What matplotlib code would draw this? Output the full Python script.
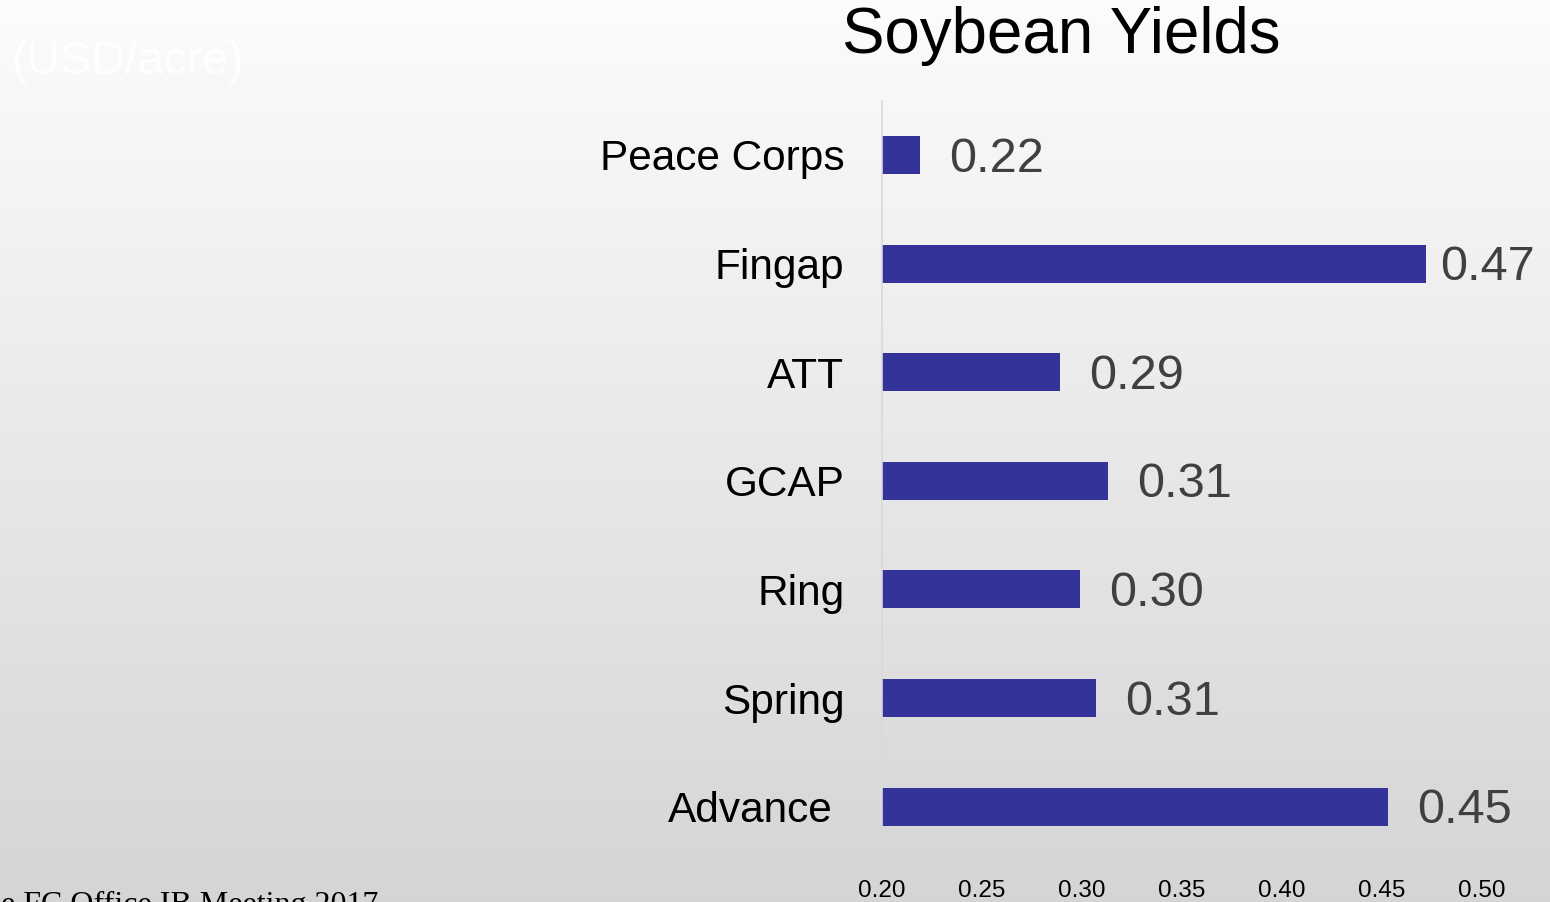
import matplotlib
matplotlib.use("Agg")
import matplotlib.pyplot as plt
import matplotlib.transforms as mtransforms
import numpy as np

plt.rcParams['font.family'] = ['Liberation Sans', 'DejaVu Sans']

categories = ["Peace Corps", "Fingap", "ATT", "GCAP", "Ring", "Spring", "Advance"]
values = [0.219, 0.472, 0.289, 0.313, 0.299, 0.307, 0.453]
xticks = [0.20, 0.25, 0.30, 0.35, 0.40, 0.45, 0.50]
title = "Soybean Yields"
unit_text = "(USD/acre)"
footer_text = "e FC Office IB Meeting 2017"

fig = plt.figure(figsize=(15.5, 9.02), dpi=100)

# gradient background
bg = fig.add_axes([0, 0, 1, 1], zorder=-10)
grad = np.linspace(0, 1, 256).reshape(-1, 1)
top_c = np.array([0.988, 0.988, 0.988])
bot_c = np.array([0.835, 0.835, 0.835])
img = top_c[None, None, :] * (1 - grad[:, :, None]) + bot_c[None, None, :] * grad[:, :, None]
bg.imshow(img, aspect='auto', extent=[0, 1, 0, 1], origin='upper')
bg.set_axis_off()

ax = fig.add_axes([0.569, 0.0455, 0.387, 0.843])
ax.patch.set_alpha(0)
y = np.arange(len(categories))
ax.barh(y, [v - 0.2 for v in values], left=0.2, height=0.35, color='#333399')
ax.set_xlim(0.2, 0.5)
ax.set_ylim(len(categories) - 0.5, -0.5)
ax.set_yticks(y)
ax.set_yticklabels(categories, fontsize=30.5, color='black')
ax.set_xticks(xticks)
ax.set_xticklabels([f"{t:.2f}" for t in xticks], fontsize=17.5, color='black')
ax.tick_params(axis='y', length=0, pad=27)
ax.tick_params(axis='x', length=0, pad=14)
for s in ['top', 'right', 'bottom']:
    ax.spines[s].set_visible(False)
ax.spines['left'].set_color('#d9d9d9')
ax.spines['left'].set_linewidth(1.2)

# shift Advance label slightly left as in reference
lbl = ax.get_yticklabels()[-1]
lbl.set_transform(lbl.get_transform() + mtransforms.ScaledTranslation(-12 / 100, 0, fig.dpi_scale_trans))

for yi, v in zip(y, values):
    dx = 10 if v > 0.46 else 21
    ax.annotate(f"{v:.2f}", xy=(v, yi), xytext=(dx, -3), textcoords='offset points',
                ha='left', va='center', fontsize=35, color='#404040', annotation_clip=False)

fig.text(0.6845, 0.960, title, ha='center', va='center', fontsize=45.8, color='black')
fig.text(0.007, 0.931, unit_text, ha='left', va='center', fontsize=33.5, color='#fefefe')
fig.text(0.244, -0.012, footer_text, ha='right', va='baseline', fontsize=23,
         family=['Liberation Serif', 'DejaVu Serif'], color='black')

fig.savefig("out.png", dpi=100)
